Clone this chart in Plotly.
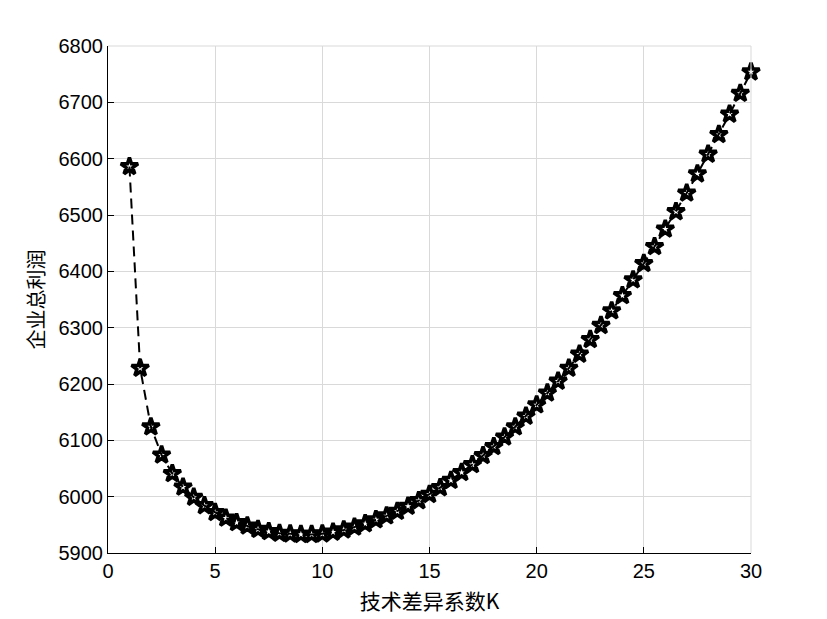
import plotly.graph_objects as go

K = [1, 1.5, 2, 2.5, 3, 3.5, 4, 4.5, 5, 5.5, 6, 6.5, 7, 7.5, 8, 8.5, 9, 9.5, 10,
     10.5, 11, 11.5, 12, 12.5, 13, 13.5, 14, 14.5, 15, 15.5, 16, 16.5, 17, 17.5,
     18, 18.5, 19, 19.5, 20, 20.5, 21, 21.5, 22, 22.5, 23, 23.5, 24, 24.5, 25,
     25.5, 26, 26.5, 27, 27.5, 28, 28.5, 29, 29.5, 30]
profit = [6586, 6228, 6124, 6074, 6041, 6017, 5999, 5984, 5972, 5962, 5954, 5948,
          5942, 5938, 5935, 5934, 5933, 5933, 5934, 5937, 5941, 5946, 5952, 5959,
          5966, 5974, 5983, 5993, 6004, 6016, 6029, 6043, 6057, 6073, 6089, 6106,
          6124, 6143, 6163, 6184, 6205, 6228, 6253, 6279, 6304, 6330, 6357, 6385,
          6414, 6444, 6475, 6506, 6539, 6573, 6608, 6643, 6679, 6716, 6754]

x_ticks = [0, 5, 10, 15, 20, 25, 30]
y_ticks = [5900, 6000, 6100, 6200, 6300, 6400, 6500, 6600, 6700, 6800]
x_title = "技术差异系数K"
y_title = "企业总利润"

fig = go.Figure()
fig.add_trace(go.Scatter(
    x=K, y=profit, mode="lines+markers",
    line=dict(color="black", width=2, dash="10px,6px"),
    marker=dict(symbol="star-open", size=13, color="black",
                line=dict(color="black", width=3.5)),
    showlegend=False, cliponaxis=False,
))

grid = "#d9d9d9"
fig.update_layout(
    width=827, height=619,
    margin=dict(l=100, r=84, t=38, b=74),
    paper_bgcolor="white", plot_bgcolor="white",
    font=dict(family="Liberation Sans, Arial", size=20, color="black"),
    xaxis=dict(
        range=[0, 30], tickvals=x_ticks, ticks="inside", ticklen=6,
        tickcolor="black", showline=True, linecolor="black", linewidth=1,
        showgrid=True, gridcolor=grid, gridwidth=1, zeroline=False,
        title=dict(text=x_title, standoff=13,
                   font=dict(family="Noto Sans CJK SC", size=21, color="black")),
    ),
    yaxis=dict(
        range=[5900, 6800], tickvals=y_ticks, ticks="inside", ticklen=6,
        tickcolor="black", showline=True, linecolor="black", linewidth=1,
        showgrid=True, gridcolor=grid, gridwidth=1, zeroline=False,
        title=dict(text=y_title, standoff=8,
                   font=dict(family="Noto Sans CJK SC", size=20, color="black")),
    ),
    shapes=[
        dict(type="line", xref="paper", yref="paper", x0=0, x1=1, y0=1, y1=1,
             line=dict(color=grid, width=1)),
        dict(type="line", xref="paper", yref="paper", x0=1, x1=1, y0=0, y1=1,
             line=dict(color=grid, width=1)),
    ],
)

fig.write_html("out.html")
